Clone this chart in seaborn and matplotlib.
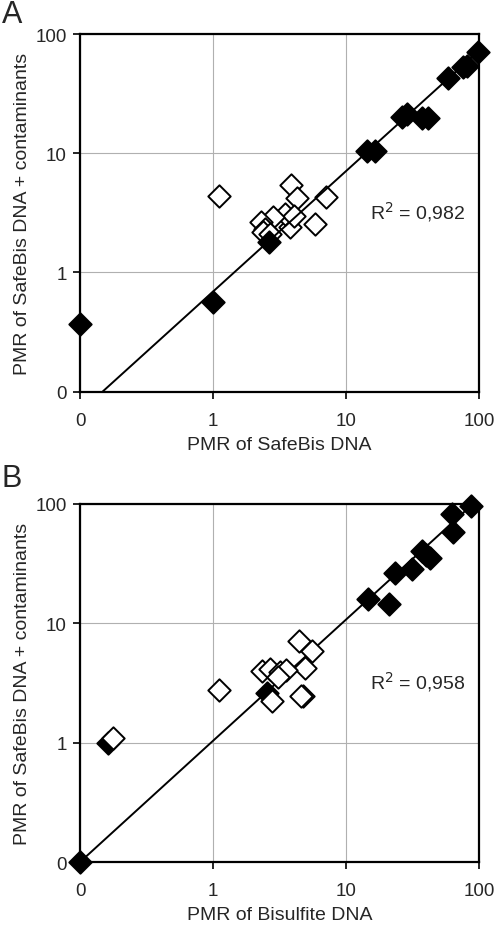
import numpy as np
import pandas as pd
import matplotlib
matplotlib.use("Agg")
import matplotlib.pyplot as plt
import seaborn as sns

# "0" on the log axes is drawn at 0.1
ZERO = 0.1

# panel A: SafeBis DNA vs SafeBis DNA + contaminants
a_fill_x = [0, 1.0, 2.65, 14.3, 16.5, 26.2, 28.6, 37, 41.6, 58.8, 76, 80.8, 98.8]
a_fill_y = [0.37, 0.57, 1.79, 10.5, 10.5, 20.1, 21.4, 20, 20, 43, 52.8, 54.5, 70.6]
a_open_x = [1.10, 3.84, 4.26, 7.07, 5.85, 3.79, 3.48, 4.07, 2.84, 2.30, 2.47, 2.39, 2.68]
a_open_y = [4.41, 5.45, 4.19, 4.27, 2.55, 2.39, 3.09, 3.0, 2.9, 2.63, 2.31, 2.17, 2.1]
a_line_x = [0.148, 100]
a_line_y = [0.1, 73]
a_r2 = "0,982"

# panel B: Bisulfite DNA vs SafeBis DNA + contaminants
b_fill_x = [0, 0.163, 2.53, 14.7, 21.2, 23.4, 31.2, 37, 40, 42.8, 63.4, 62.3, 86.5]
b_fill_y = [0, 1.0, 2.61, 16.1, 14.6, 26.5, 28.2, 40.5, 37, 34.9, 58.6, 82.4, 95]
b_open_x = [0.178, 1.10, 4.46, 5.52, 4.92, 4.78, 4.58, 2.32, 2.68, 3.19, 3.54, 3.10, 2.76]
b_open_y = [1.09, 2.77, 7.06, 5.82, 4.24, 2.48, 2.48, 4.0, 4.13, 3.87, 4.07, 3.52, 2.25]
b_line_x = [0.1, 90]
b_line_y = [0.1, 100]
b_r2 = "0,958"

sns.set_style("white")
plt.rcParams['font.family'] = ['Liberation Sans', 'DejaVu Sans']

fig = plt.figure(figsize=(4.97, 9.28), dpi=100)
axA = fig.add_axes([0.161, 0.577, 0.803, 0.385])
axB = fig.add_axes([0.161, 0.070, 0.803, 0.386])


def frame(v):
    v = np.asarray(v, dtype=float)
    return np.where(v == 0, ZERO, v)


def panel(ax, fx, fy, ox, oy, lx, ly, r2, xlabel, open_on_top):
    filled = pd.DataFrame({"x": frame(fx), "y": frame(fy)})
    hollow = pd.DataFrame({"x": frame(ox), "y": frame(oy)})
    zf, zo = (3, 5) if open_on_top else (5, 3)
    sns.scatterplot(data=hollow, x="x", y="y", marker="D", s=130, color="white",
                    edgecolor="black", linewidth=1.4, ax=ax, zorder=zo, clip_on=False)
    sns.lineplot(x=lx, y=ly, color="black", linewidth=1.4, ax=ax, zorder=4)
    sns.scatterplot(data=filled, x="x", y="y", marker="D", s=130, color="black",
                    edgecolor="black", linewidth=1.4, ax=ax, zorder=zf, clip_on=False)
    ax.set_xscale("log")
    ax.set_yscale("log")
    ax.set_xlim(0.1, 100)
    ax.set_ylim(0.1, 100)
    ticks = [0.1, 1, 10, 100]
    labels = ["0", "1", "10", "100"]
    ax.set_xticks(ticks, labels)
    ax.set_yticks(ticks, labels)
    ax.minorticks_off()
    ax.tick_params(axis="both", direction="out", length=5, width=1.2,
                   labelsize=13.5, color="black", bottom=True, left=True)
    ax.tick_params(axis="x", pad=9.5)
    ax.tick_params(axis="y", pad=4.5)
    ax.grid(True, color="#b0b0b0", linewidth=0.8)
    for s in ax.spines.values():
        s.set_color("black")
        s.set_linewidth(1.6)
    ax.set_xlabel(xlabel, fontsize=14, labelpad=5)
    ax.set_ylabel("PMR of SafeBis DNA + contaminants", fontsize=14, labelpad=3)
    ax.text(0.727, 0.504, "R$^2$ = " + r2, transform=ax.transAxes,
            fontsize=14, ha="left", va="center")


panel(axA, a_fill_x, a_fill_y, a_open_x, a_open_y, a_line_x, a_line_y, a_r2,
      "PMR of SafeBis DNA", open_on_top=False)
panel(axB, b_fill_x, b_fill_y, b_open_x, b_open_y, b_line_x, b_line_y, b_r2,
      "PMR of Bisulfite DNA", open_on_top=True)

fig.text(0.004, 1.0, "A", fontsize=22, ha="left", va="top")
fig.text(0.004, 0.5, "B", fontsize=22, ha="left", va="top")

fig.savefig("out.png", dpi=100)
